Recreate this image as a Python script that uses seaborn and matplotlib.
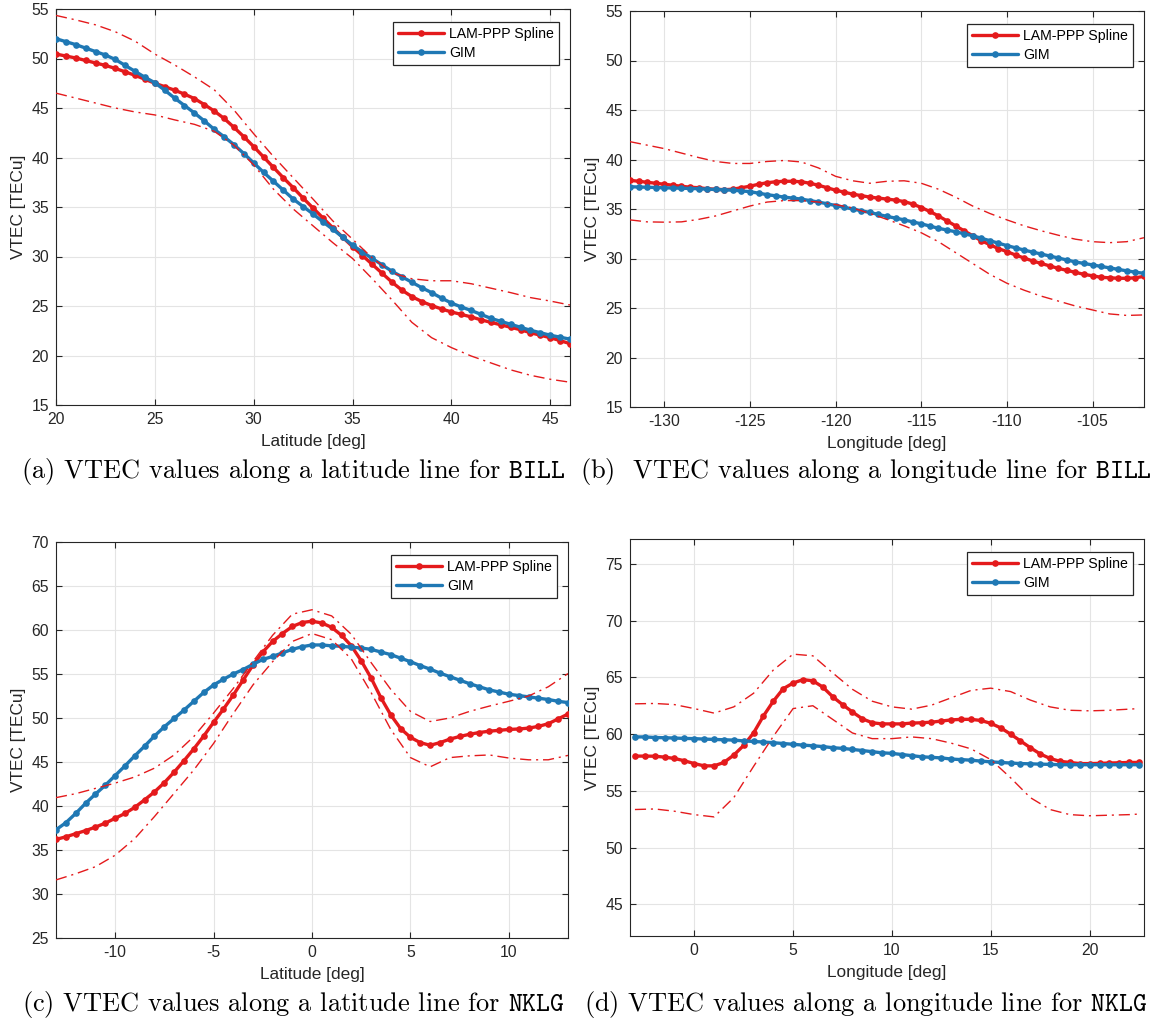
import numpy as np
import matplotlib
matplotlib.use("Agg")
import matplotlib.pyplot as plt
import seaborn as sns

# ---------------- data ----------------
# (a) latitude line, BILL
lat_a = np.arange(20.0, 46.01, 0.5)
lam_a = [50.45, 50.25, 50.05, 49.8, 49.55, 49.3, 49.0, 48.65, 48.3, 47.9,
         47.5, 47.15, 46.8, 46.4, 45.95, 45.35, 44.7, 43.95, 43.05, 42.1,
         41.1, 40.05, 39.0, 37.95, 36.95, 35.9, 34.9, 33.9, 32.9, 31.95,
         31.0, 30.1, 29.2, 28.3, 27.4, 26.6, 25.95, 25.45, 25.05, 24.7,
         24.4, 24.15, 23.9, 23.6, 23.35, 23.1, 22.85, 22.6, 22.3, 22.05,
         21.8, 21.5, 21.2]
gim_a = [52.0, 51.7, 51.4, 51.05, 50.7, 50.35, 49.9, 49.3, 48.7, 48.1,
         47.55, 46.8, 46.0, 45.25, 44.5, 43.7, 42.85, 42.1, 41.3, 40.4,
         39.45, 38.5, 37.6, 36.7, 35.8, 35.05, 34.3, 33.5, 32.75, 31.95,
         31.15, 30.45, 29.8, 29.15, 28.5, 27.95, 27.4, 26.85, 26.35, 25.8,
         25.3, 24.9, 24.55, 24.15, 23.75, 23.45, 23.15, 22.85, 22.55, 22.3,
         22.05, 21.85, 21.65]
latb_a = np.arange(20.0, 46.01, 1.0)
up_a = [54.35, 53.9, 53.4, 52.7, 51.75, 50.45, 49.35, 48.15, 46.85, 44.8,
        42.4, 40.1, 37.95, 35.8, 33.6, 31.75, 29.85, 28.35, 27.75, 27.55,
        27.55, 27.25, 26.8, 26.35, 25.85, 25.5, 25.1]
lo_a = [46.5, 46.0, 45.5, 45.0, 44.6, 44.3, 43.8, 43.35, 42.65, 41.25,
        39.25, 36.8, 34.8, 33.1, 31.4, 29.8, 27.75, 25.6, 23.35, 21.8,
        20.8, 19.95, 19.25, 18.55, 18.0, 17.6, 17.3]

# (b) longitude line, BILL
lon_b = np.arange(-132.0, -101.99, 0.5)
lam_b = [37.9, 37.8, 37.7, 37.6, 37.5, 37.4, 37.3, 37.2, 37.15, 37.05,
         37.0, 36.95, 37.0, 37.15, 37.3, 37.5, 37.65, 37.75, 37.8, 37.8,
         37.75, 37.6, 37.4, 37.15, 36.9, 36.7, 36.5, 36.35, 36.2, 36.1,
         36.0, 35.9, 35.75, 35.5, 35.15, 34.75, 34.3, 33.8, 33.3, 32.8,
         32.3, 31.8, 31.4, 31.0, 30.7, 30.35, 30.05, 29.75, 29.5, 29.25,
         29.0, 28.8, 28.6, 28.4, 28.25, 28.1, 28.05, 28.0, 28.0, 28.05,
         28.2]
gim_b = [37.25, 37.22, 37.2, 37.17, 37.14, 37.12, 37.1, 37.07, 37.05, 37.0,
         36.97, 36.93, 36.9, 36.83, 36.75, 36.6, 36.45, 36.33, 36.2, 36.1,
         36.0, 35.85, 35.7, 35.53, 35.35, 35.17, 35.0, 34.82, 34.65, 34.45,
         34.25, 34.08, 33.9, 33.7, 33.5, 33.28, 33.05, 32.88, 32.7, 32.5,
         32.3, 32.05, 31.8, 31.55, 31.3, 31.08, 30.85, 30.65, 30.45, 30.25,
         30.05, 29.85, 29.65, 29.5, 29.35, 29.2, 29.05, 28.9, 28.75, 28.62,
         28.5]
lonb_b = np.arange(-132.0, -101.99, 1.0)
up_b = [41.8, 41.45, 41.1, 40.65, 40.2, 39.8, 39.6, 39.6, 39.8, 39.9,
        39.75, 39.15, 38.3, 37.85, 37.6, 37.8, 37.85, 37.6, 37.0, 36.2,
        35.3, 34.55, 33.9, 33.3, 32.8, 32.35, 31.95, 31.7, 31.6, 31.7,
        32.1]
lo_b = [33.9, 33.7, 33.67, 33.7, 33.95, 34.3, 34.8, 35.3, 35.7, 35.85,
        35.85, 35.7, 35.45, 35.1, 34.55, 33.95, 33.3, 32.6, 31.7, 30.6,
        29.5, 28.4, 27.5, 26.8, 26.2, 25.7, 25.2, 24.8, 24.4, 24.25,
        24.3]

# (c) latitude line, NKLG
lat_c = np.arange(-13.0, 13.01, 0.5)
lam_c = [36.2, 36.5, 36.85, 37.2, 37.6, 38.05, 38.6, 39.15, 39.85, 40.7,
         41.6, 42.65, 43.85, 45.15, 46.5, 47.95, 49.5, 51.0, 52.6, 54.3,
         56.0, 57.5, 58.7, 59.6, 60.4, 60.85, 61.0, 60.8, 60.3, 59.4,
         58.2, 56.5, 54.55, 52.3, 50.35, 48.8, 47.8, 47.2, 46.9, 47.2,
         47.6, 47.9, 48.15, 48.35, 48.5, 48.6, 48.7, 48.75, 48.85, 49.05,
         49.35, 49.9, 50.45]
gim_c = [37.3, 38.1, 39.15, 40.3, 41.35, 42.35, 43.45, 44.55, 45.7, 46.8,
         47.95, 49.0, 49.95, 50.9, 51.9, 52.9, 53.75, 54.4, 55.0, 55.5,
         56.1, 56.65, 57.0, 57.4, 57.8, 58.1, 58.3, 58.3, 58.2, 58.15,
         58.05, 57.95, 57.8, 57.5, 57.2, 56.8, 56.4, 55.95, 55.55, 55.1,
         54.7, 54.3, 53.9, 53.55, 53.2, 52.95, 52.7, 52.55, 52.4, 52.25,
         52.1, 51.9, 51.75]
latb_c = np.arange(-13.0, 13.01, 1.0)
up_c = [40.95, 41.4, 42.0, 42.6, 43.3, 44.3, 45.8, 47.9, 50.55, 53.35,
        56.4, 59.4, 61.8, 62.3, 61.6, 59.5, 56.3, 53.25, 50.75, 49.6,
        50.0, 50.75, 51.35, 51.9, 52.5, 53.55, 55.05]
lo_c = [31.6, 32.3, 33.1, 34.4, 36.3, 38.8, 41.45, 44.1, 47.1, 50.5,
        53.75, 56.4, 58.7, 59.6, 58.9, 56.7, 52.9, 48.7, 45.5, 44.45,
        45.5, 45.7, 45.8, 45.45, 45.25, 45.25, 45.75]

# (d) longitude line, NKLG
lon_d = np.arange(-3.0, 22.51, 0.5)
lam_d = [58.06, 58.06, 58.05, 57.97, 57.85, 57.65, 57.4, 57.2, 57.2, 57.5,
         58.15, 59.0, 60.1, 61.6, 62.9, 64.0, 64.5, 64.8, 64.7, 64.15,
         63.3, 62.6, 61.95, 61.35, 61.0, 60.9, 60.9, 60.9, 60.97, 61.0,
         61.05, 61.15, 61.25, 61.3, 61.3, 61.2, 60.95, 60.55, 60.0, 59.4,
         58.8, 58.25, 57.85, 57.6, 57.5, 57.4, 57.4, 57.42, 57.45, 57.47,
         57.5, 57.5]
gim_d = [59.75, 59.75, 59.7, 59.68, 59.65, 59.62, 59.6, 59.56, 59.53, 59.5,
         59.47, 59.4, 59.35, 59.3, 59.24, 59.17, 59.1, 59.03, 58.97, 58.9,
         58.8, 58.74, 58.65, 58.55, 58.45, 58.35, 58.3, 58.2, 58.1, 58.0,
         57.95, 57.9, 57.8, 57.75, 57.7, 57.62, 57.55, 57.5, 57.45, 57.4,
         57.38, 57.35, 57.33, 57.3, 57.3, 57.3, 57.3, 57.3, 57.3, 57.3,
         57.3, 57.3]
lonb_d = np.append(np.arange(-3.0, 22.01, 1.0), 22.5)
up_d = [62.67, 62.7, 62.6, 62.25, 61.85, 62.4, 63.6, 65.65, 67.05, 66.9,
        65.4, 63.95, 62.9, 62.4, 62.2, 62.55, 63.2, 63.85, 64.05, 63.75,
        63.0, 62.4, 62.1, 62.05, 62.1, 62.2, 62.25]
lo_d = [53.35, 53.4, 53.2, 52.9, 52.7, 54.4, 57.15, 59.8, 62.25, 62.5,
        61.3, 60.1, 59.6, 59.6, 59.75, 59.6, 59.2, 58.7, 57.75, 56.15,
        54.4, 53.35, 52.9, 52.8, 52.85, 52.9, 52.95]

captions = [r"(a) VTEC values along a latitude line for $\mathtt{BILL}$",
            r"(b)  VTEC values along a longitude line for $\mathtt{BILL}$",
            r"(c) VTEC values along a latitude line for $\mathtt{NKLG}$",
            r"(d) VTEC values along a longitude line for $\mathtt{NKLG}$"]
xlabels = ["Latitude [deg]", "Longitude [deg]", "Latitude [deg]", "Longitude [deg]"]
ylabel = "VTEC [TECu]"
legend_labels = ["LAM-PPP Spline", "GIM"]

# ---------------- style ----------------
sns.set_theme(style="whitegrid")
plt.rcParams["font.family"] = ["Liberation Sans", "DejaVu Sans"]
plt.rcParams["mathtext.fontset"] = "cm"
plt.rcParams["axes.unicode_minus"] = False

RED = "#e41a1c"
BLUE = "#1f78b4"
DARK = "#262626"

fig = plt.figure(figsize=(11.52, 10.30), dpi=100)

W, H = 1152.0, 1030.0
boxes = [(56, 9, 570, 405), (630, 11, 1144, 407),
         (56, 542, 568, 938), (630, 539, 1144, 936)]
panels = [
    dict(x=lat_a, lam=lam_a, gim=gim_a, xb=latb_a, up=up_a, lo=lo_a,
         xlim=(20, 46), ylim=(15, 55), xt=np.arange(20, 46, 5), yt=np.arange(15, 56, 5)),
    dict(x=lon_b, lam=lam_b, gim=gim_b, xb=lonb_b, up=up_b, lo=lo_b,
         xlim=(-132, -102), ylim=(15, 55), xt=np.arange(-130, -102, 5), yt=np.arange(15, 56, 5)),
    dict(x=lat_c, lam=lam_c, gim=gim_c, xb=latb_c, up=up_c, lo=lo_c,
         xlim=(-13, 13), ylim=(25, 70), xt=np.arange(-10, 11, 5), yt=np.arange(25, 71, 5)),
    dict(x=lon_d, lam=lam_d, gim=gim_d, xb=lonb_d, up=up_d, lo=lo_d,
         xlim=(-3.25, 22.75), ylim=(42.2, 77.2), xt=np.arange(0, 21, 5), yt=np.arange(45, 76, 5)),
]
cap_pos = [(293, 471), (866, 471), (293, 1004), (866, 1004)]

for i, (p, b) in enumerate(zip(panels, boxes)):
    assert len(p["x"]) == len(p["lam"]) == len(p["gim"]), i
    assert len(p["xb"]) == len(p["up"]) == len(p["lo"]), i
    l, t, r, bt = b
    ax = fig.add_axes([l / W, 1 - bt / H, (r - l) / W, (bt - t) / H])
    ax.set_facecolor("white")

    sns.lineplot(x=p["x"], y=p["lam"], ax=ax, color=RED, linewidth=2.4,
                 marker="o", markersize=4.8, markeredgewidth=0, errorbar=None,
                 legend=False, zorder=3)
    h_red = ax.lines[-1]
    for yb in (p["up"], p["lo"]):
        sns.lineplot(x=p["xb"], y=yb, ax=ax, color=RED, linewidth=1.0,
                     errorbar=None, legend=False, zorder=4)
        ax.lines[-1].set_dashes([8, 3.5, 1.5, 3.5])
    sns.lineplot(x=p["x"], y=p["gim"], ax=ax, color=BLUE, linewidth=2.4,
                 marker="o", markersize=4.8, markeredgewidth=0, errorbar=None,
                 legend=False, zorder=3)
    h_blue = ax.lines[-1]

    ax.set_xlim(*p["xlim"])
    ax.set_ylim(*p["ylim"])
    ax.set_xticks(p["xt"])
    ax.set_yticks(p["yt"])
    ax.set_xticklabels([str(int(v)) for v in p["xt"]])
    ax.set_yticklabels([str(int(v)) for v in p["yt"]])
    ax.grid(True, color="#e4e4e4", linewidth=0.8)
    ax.set_axisbelow(True)
    for s in ax.spines.values():
        s.set_visible(True)
        s.set_color(DARK)
        s.set_linewidth(0.8)
    ax.tick_params(axis="both", which="both", direction="in", length=4, width=0.8,
                   color=DARK, labelcolor=DARK, labelsize=11.3, top=True, right=True,
                   bottom=True, left=True, pad=5)
    ax.set_xlabel(xlabels[i], fontsize=12.4, color=DARK, labelpad=5)
    ax.set_ylabel(ylabel, fontsize=12.4, color=DARK, labelpad=4)

    leg = ax.legend([h_red, h_blue], legend_labels, loc="upper right",
                    bbox_to_anchor=(0.979, 0.967), borderaxespad=0, fontsize=10.2,
                    frameon=True, fancybox=False, framealpha=1, edgecolor=DARK,
                    handlelength=3.2, handletextpad=0.4, labelspacing=0.35,
                    borderpad=0.35)
    leg.get_frame().set_linewidth(0.9)
    for t_ in leg.get_texts():
        t_.set_color("black")

    cx, cy = cap_pos[i]
    fig.text(cx / W, 1 - cy / H, captions[i], ha="center", va="center",
             fontsize=19.0, family="cmr10", color="black")

fig.savefig("out.png", dpi=100, facecolor="white")
